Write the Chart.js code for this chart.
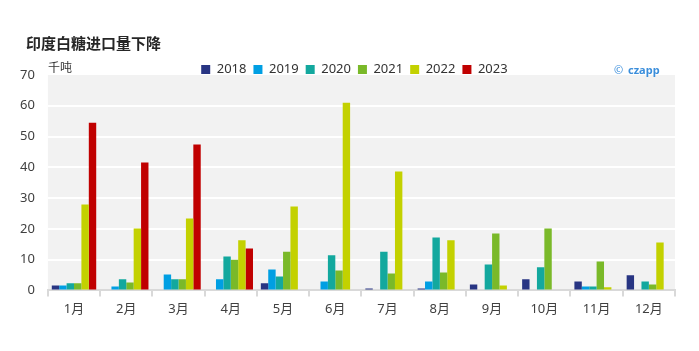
<!DOCTYPE html>
<html>
<head>
<meta charset="utf-8">
<script src="https://cdn.jsdelivr.net/npm/chart.js@4"></script>
<style>
html,body{margin:0;padding:0;background:#fff;}
#wrap{width:699px;height:351px;position:relative;}
</style>
</head>
<body>
<div id="wrap"><canvas id="c" width="699" height="351"></canvas></div>
<script>
const categories = ['1月','2月','3月','4月','5月','6月','7月','8月','9月','10月','11月','12月'];
const years = ['2018','2019','2020','2021','2022','2023'];
const s2018 = [1.6, 0, 0, 0, 2.3, 0, 0.6, 0.6, 1.9, 3.6, 2.9, 4.9];
const s2019 = [1.6, 1.3, 5.2, 3.6, 6.8, 2.9, 0, 2.9, 0, 0, 1.3, 0];
const s2020 = [2.3, 3.6, 3.6, 11.0, 4.5, 11.4, 12.6, 17.2, 8.4, 7.5, 1.3, 2.9];
const s2021 = [2.3, 2.6, 3.6, 10.0, 12.6, 6.5, 5.5, 5.8, 18.5, 20.1, 9.4, 1.9];
const s2022 = [27.9, 20.1, 23.4, 16.3, 27.3, 61.0, 38.6, 16.3, 1.6, 0, 1.0, 15.6];
const s2023 = [54.5, 41.6, 47.4, 13.6, null, null, null, null, null, null, null, null];
const yTicks = [0, 10, 20, 30, 40, 50, 60, 70];
const titleText = '印度白糖进口量下降';
const unitText = '千吨';

const colors = ['#283583', '#009FE3', '#13A89E', '#7AB929', '#C3D100', '#C00000'];
const seriesList = [s2018, s2019, s2020, s2021, s2022, s2023];
const FONT = "'Noto Sans', 'Noto Sans CJK SC', sans-serif";

const decor = {
  id: 'decor',
  beforeInit(chart) {
    const fit = chart.legend.fit;
    chart.legend.fit = function() {
      fit.call(this);
      this.height -= 11;
    };
  },
  afterLayout(chart) {
    const lg = chart.legend;
    lg.left -= 7;
    lg.right -= 7;
  },
  beforeDraw(chart) {
    const {ctx, chartArea: a} = chart;
    ctx.save();
    ctx.fillStyle = '#F2F2F2';
    ctx.fillRect(a.left, a.top, a.right - a.left, a.bottom - a.top);
    ctx.restore();
  },
  afterDraw(chart) {
    const {ctx} = chart;
    ctx.save();
    ctx.fillStyle = '#262626';
    ctx.font = "bold 15px 'Noto Sans CJK SC', sans-serif";
    ctx.textBaseline = 'middle';
    ctx.textAlign = 'left';
    ctx.fillText(titleText, 26, 43);
    ctx.fillStyle = '#333333';
    ctx.font = "12px 'Noto Sans CJK SC', sans-serif";
    ctx.fillText(unitText, 48, 67);
    ctx.fillStyle = '#3B8EDB';
    ctx.font = "11px " + FONT;
    ctx.fillText('©', 614, 71);
    ctx.font = "bold 11px " + FONT;
    ctx.fillText('czapp', 628, 71);
    ctx.restore();
  }
};

new Chart(document.getElementById('c'), {
  type: 'bar',
  data: {
    labels: categories,
    datasets: years.map((y, i) => ({
      label: y,
      data: seriesList[i],
      backgroundColor: colors[i],
      borderWidth: 0,
      categoryPercentage: 0.85,
      barPercentage: 1.0
    }))
  },
  options: {
    responsive: false,
    animation: false,
    layout: { padding: { top: 56, left: 7, right: 24, bottom: 29 } },
    plugins: {
      legend: {
        position: 'top',
        align: 'center',
        fullSize: false,
        labels: {
          boxWidth: 9,
          boxHeight: 9,
          padding: 7,
          color: '#333333',
          font: { family: FONT, size: 13 }
        }
      },
      tooltip: { enabled: false },
      title: { display: false }
    },
    scales: {
      x: {
        offset: true,
        grid: {
          display: true,
          offset: true,
          drawOnChartArea: false,
          drawTicks: true,
          tickLength: 6,
          color: '#D9D9D9',
          lineWidth: 2
        },
        border: { display: true, color: '#D9D9D9', width: 2 },
        ticks: { color: '#404040', font: { family: FONT, size: 13 }, padding: 5 }
      },
      y: {
        min: 0,
        max: 70,
        afterBuildTicks(scale) { scale.ticks = yTicks.map(v => ({ value: v })); },
        grid: {
          color: (c) => (c.tick && c.tick.value === 70) ? 'rgba(0,0,0,0)' : '#FFFFFF',
          lineWidth: 2,
          drawTicks: false
        },
        border: { display: false },
        ticks: { color: '#404040', font: { family: FONT, size: 13 }, padding: 13 }
      }
    }
  },
  plugins: [decor]
});
</script>
</body>
</html>
